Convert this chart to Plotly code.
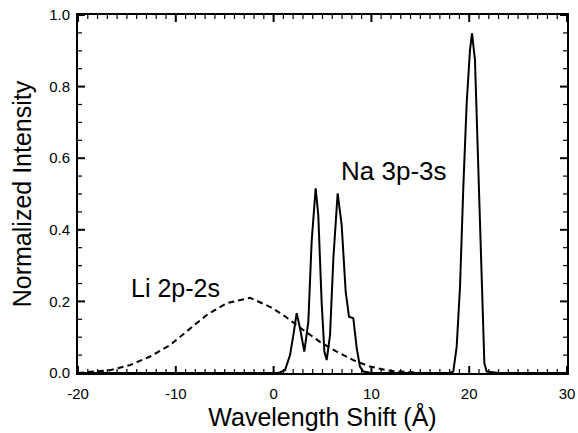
import plotly.graph_objects as go

# Na 3p-3s (solid) spectrum
na_x = [-20, 0.5, 1.17, 1.68, 2.02, 2.36, 2.70, 3.14, 3.55, 3.89, 4.30, 4.57, 4.91, 5.19, 5.43,
        5.77, 6.11, 6.55, 6.96, 7.37, 7.71, 8.15, 8.50, 8.83, 9.17, 10.0, 18.0, 18.37, 18.72,
        19.06, 19.40, 19.74, 20.08, 20.29, 20.59, 20.83, 21.10, 21.34, 21.55, 21.79, 23.0, 30]
na_y = [0.0, 0.0, 0.008, 0.05, 0.106, 0.167, 0.125, 0.06, 0.143, 0.367, 0.516, 0.441, 0.199, 0.06, 0.036,
        0.106, 0.32, 0.502, 0.413, 0.227, 0.157, 0.153, 0.069, 0.018, 0.004, 0.0, 0.0, 0.004, 0.073,
        0.241, 0.52, 0.753, 0.902, 0.949, 0.874, 0.66, 0.381, 0.148, 0.027, 0.004, 0.0, 0.0]

# Li 2p-2s (dashed) profile
li_x = [-20, -18.5, -16.73, -14.68, -12.64, -10.59, -8.89, -6.84, -4.80, -2.41, -0.37, 0.99,
        3.04, 4.74, 6.45, 8.15, 9.86, 11.9, 13.6, 15.0]
li_y = [0.0, 0.003, 0.008, 0.022, 0.046, 0.078, 0.115, 0.162, 0.195, 0.21, 0.185, 0.162,
        0.12, 0.087, 0.06, 0.036, 0.018, 0.006, 0.003, 0.0]

x_ticks = [-20, -10, 0, 10, 20, 30]
x_ticktext = ["-20", "-10", "0", "10", "20", "30"]
y_ticks = [0.0, 0.2, 0.4, 0.6, 0.8, 1.0]
y_ticktext = ["0.0", "0.2", "0.4", "0.6", "0.8", "1.0"]
x_range = [-20, 30]
y_range = [0, 1.0]
x_minor_step = 1
y_minor_step = 0.05

FONT = "Liberation Sans, Arial, Helvetica, sans-serif"

fig = go.Figure()
fig.add_trace(go.Scatter(x=li_x, y=li_y, mode="lines",
                         line=dict(color="black", width=2, dash="6px,4px"),
                         showlegend=False))
fig.add_trace(go.Scatter(x=na_x, y=na_y, mode="lines",
                         line=dict(color="black", width=2),
                         showlegend=False))

fig.add_annotation(x=-10.08, y=0.237, text="Li 2p-2s", showarrow=False,
                   font=dict(family=FONT, size=25, color="black"),
                   xanchor="center", yanchor="middle")
fig.add_annotation(x=12.31, y=0.565, text="Na 3p-3s", showarrow=False,
                   font=dict(family=FONT, size=26, color="black"),
                   xanchor="center", yanchor="middle")

# Inward tick marks on all four sides, placed via the axis scales (pixel-sized lengths)
MAJOR_LEN, MINOR_LEN = 7, 4
n_xminor = int(round((x_range[1] - x_range[0]) / x_minor_step))
for i in range(n_xminor + 1):
    xv = x_range[0] + i * x_minor_step
    major = any(abs(xv - t) < 1e-9 for t in x_ticks)
    ln = MAJOR_LEN if major else MINOR_LEN
    lw = 2 if major else 1.2
    for anchor, sign in [(y_range[0], 1), (y_range[1], -1)]:
        fig.add_shape(type="line", xref="x", yref="y", ysizemode="pixel", yanchor=anchor,
                      x0=xv, x1=xv, y0=0, y1=sign * ln, layer="above",
                      line=dict(color="black", width=lw))

n_yminor = int(round((y_range[1] - y_range[0]) / y_minor_step))
for i in range(n_yminor + 1):
    yv = y_range[0] + i * y_minor_step
    major = any(abs(yv - t) < 1e-9 for t in y_ticks)
    ln = MAJOR_LEN if major else MINOR_LEN
    lw = 2 if major else 1.2
    for anchor, sign in [(x_range[0], 1), (x_range[1], -1)]:
        fig.add_shape(type="line", xref="x", yref="y", xsizemode="pixel", xanchor=anchor,
                      y0=yv, y1=yv, x0=0, x1=sign * ln, layer="above",
                      line=dict(color="black", width=lw))

fig.update_xaxes(range=x_range, tickmode="array", tickvals=x_ticks, ticktext=x_ticktext,
                 ticks="", showline=True, linewidth=2, linecolor="black", mirror=True,
                 showgrid=False, zeroline=False, ticklabelstandoff=6,
                 tickfont=dict(family=FONT, size=15, color="black"),
                 title=dict(text="Wavelength Shift (Å)",
                            font=dict(family=FONT, size=25, color="black"), standoff=6))
fig.update_yaxes(range=y_range, tickmode="array", tickvals=y_ticks, ticktext=y_ticktext,
                 ticks="", showline=True, linewidth=2, linecolor="black", mirror=True,
                 showgrid=False, zeroline=False, ticklabelstandoff=3,
                 tickfont=dict(family=FONT, size=15, color="black"),
                 title=dict(text="Normalized Intensity",
                            font=dict(family=FONT, size=25, color="black"), standoff=10))

fig.update_layout(template="none",
                  width=578, height=433, margin=dict(l=78, r=11, t=15, b=60, autoexpand=False),
                  paper_bgcolor="white", plot_bgcolor="white")

fig.write_html("out.html")
